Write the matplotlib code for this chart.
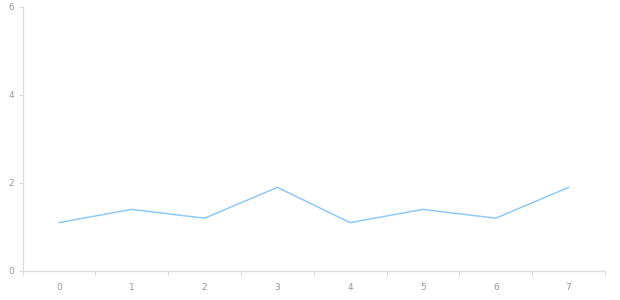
import matplotlib
matplotlib.use("Agg")
import matplotlib.pyplot as plt
from matplotlib.ticker import FixedLocator

# 数据
categories = ["0", "1", "2", "3", "4", "5", "6", "7"]
values = [1.1, 1.4, 1.2, 1.9, 1.1, 1.4, 1.2, 1.9]
y_ticks = [0, 2, 4, 6]

AXIS_COLOR = "#dddddd"
LABEL_COLOR = "#999999"

fig = plt.figure(figsize=(6.2, 3.0), dpi=100)
ax = fig.add_axes([22.5 / 620, 29 / 300, (605 - 22.5) / 620, 264 / 300])

x = list(range(len(categories)))
ax.plot(x, values, color="#90caf9", linewidth=1.1, solid_joinstyle="miter")

ax.set_xlim(-0.5, len(categories) - 0.5)
ax.set_ylim(0, 6)

ax.set_xticks(x)
ax.set_xticklabels(categories)
ax.xaxis.set_minor_locator(FixedLocator([i - 0.5 for i in range(len(categories) + 1)]))
ax.tick_params(axis="x", which="major", length=0, pad=9, labelsize=6.5, labelcolor=LABEL_COLOR)
ax.tick_params(axis="x", which="minor", length=3, width=0.8, color=AXIS_COLOR)

ax.set_yticks(y_ticks)
ax.tick_params(axis="y", length=3, width=0.8, color=AXIS_COLOR, pad=3,
               labelsize=6.5, labelcolor=LABEL_COLOR)

for side in ["top", "right"]:
    ax.spines[side].set_visible(False)
for side in ["left", "bottom"]:
    ax.spines[side].set_color(AXIS_COLOR)
    ax.spines[side].set_linewidth(0.9)

fig.savefig("out.png", dpi=100)
